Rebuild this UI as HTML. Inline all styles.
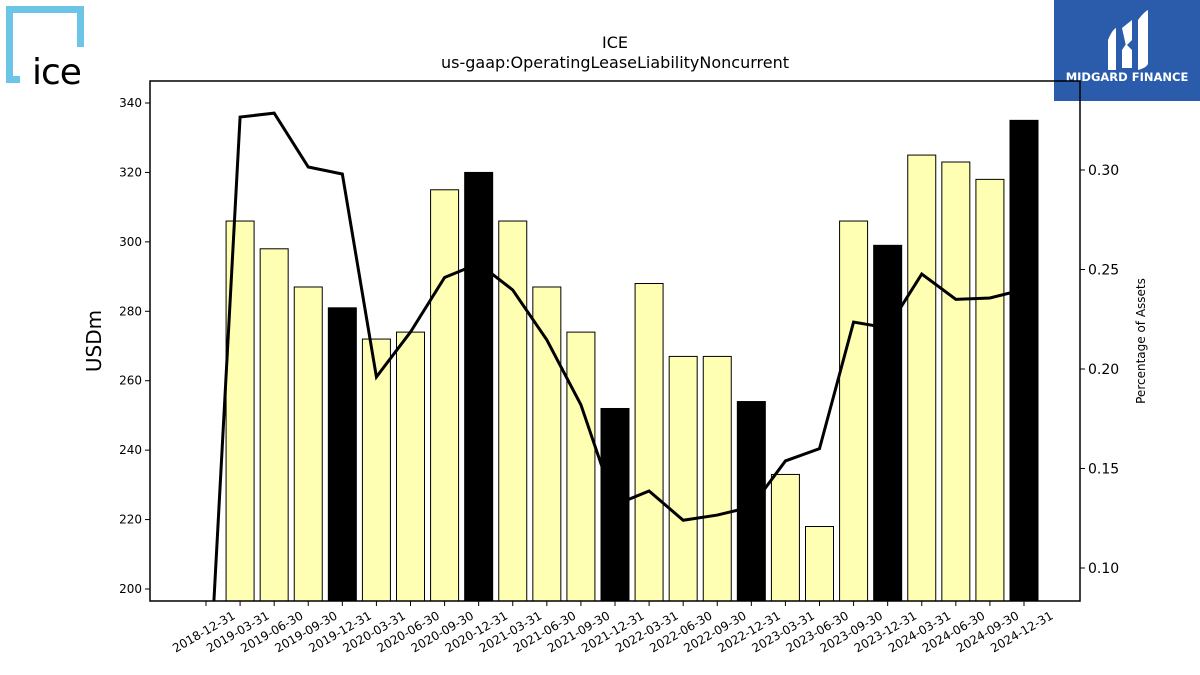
<!DOCTYPE html>
<html><head><meta charset="utf-8"><style>
html,body{margin:0;background:#fff;font-family:"Liberation Sans","DejaVu Sans",sans-serif;width:1200px;height:675px;overflow:hidden}
svg{display:block}
svg text{font-family:"DejaVu Sans","Liberation Sans",sans-serif}
</style></head><body>
<svg id="c" width="1200" height="675" viewBox="0 0 1200 675">
<g>
<path d="M6 6 H84 V47 H77 V13 H13 V76 H20 V83 H6 Z" fill="#6cc4e6"/>
<text x="32" y="84" font-size="36" font-family="DejaVu Sans" letter-spacing="-1" fill="#000">ice</text>
</g>
<g>
<rect x="1054" y="0" width="146" height="101" fill="#2b5cab"/>
<path d="M1108 40 Q1112 30 1116 28 V70 H1108 Z M1122 28 L1132 20 V40 L1126 46 Z M1122 50 L1126 44 L1132 50 V68 H1122 Z M1138 20 Q1144 12 1148 10 V64 Q1146 68 1138 70 Z" fill="#fff"/>
<text x="1127" y="81" font-size="11.5" font-weight="bold" fill="#fff" text-anchor="middle">MIDGARD FINANCE</text>
</g>
<text x="615" y="48" font-size="16" text-anchor="middle">ICE</text>
<text x="615" y="68" font-size="16" text-anchor="middle">us-gaap:OperatingLeaseLiabilityNoncurrent</text>
<g id="plot"></g>
</svg>
<script>
const categories=["2018-12-31","2019-03-31","2019-06-30","2019-09-30","2019-12-31","2020-03-31","2020-06-30","2020-09-30","2020-12-31","2021-03-31","2021-06-30","2021-09-30","2021-12-31","2022-03-31","2022-06-30","2022-09-30","2022-12-31","2023-03-31","2023-06-30","2023-09-30","2023-12-31","2024-03-31","2024-06-30","2024-09-30","2024-12-31"];
const barValues=[null,306,298,287,281,272,274,315,320,306,287,274,252,288,267,267,254,233,218,306,299,325,323,318,335];
const pctValues=[0.01,0.3266,0.3286,0.3015,0.298,0.196,0.2186,0.246,0.253,0.2397,0.2146,0.182,0.1317,0.1387,0.124,0.1266,0.1307,0.1538,0.160,0.2236,0.2206,0.2477,0.235,0.2357,0.240];
const leftTicks=[200,220,240,260,280,300,320,340];
const rightTicks=[0.10,0.15,0.20,0.25,0.30];
const NS="http://www.w3.org/2000/svg";
const L=150,R=1080,T=81,B=601;
const xS=i=>206+i*(1024-206)/24;
const yL=v=>589-(v-200)*(589-103)/140;
const yR=v=>568-(v-0.10)*1990;
const g=document.getElementById('plot');
function mk(t,a,p){const e=document.createElementNS(NS,t);for(const k in a)e.setAttribute(k,a[k]);(p||g).appendChild(e);return e;}
const clip=mk('clipPath',{id:'cp'});mk('rect',{x:L,y:T,width:R-L,height:B-T},clip);
function bars(black){barValues.forEach((v,i)=>{if(v==null)return;const isB=categories[i].endsWith('12-31');if(isB!==black)return;
const r=mk('rect',{x:xS(i)-14,y:yL(v),width:28,height:B-yL(v),fill:isB?'#000':'#ffffb3',stroke:'#000','stroke-width':1});

});}
bars(false);
const ln=mk('polyline',{points:pctValues.map((v,i)=>xS(i)+','+yR(v)).join(' '),fill:'none',stroke:'#000','stroke-width':3,'clip-path':'url(#cp)'});


bars(true);
const fr=mk('rect',{x:L,y:T,width:R-L,height:B-T,fill:'none',stroke:'#000','stroke-width':1.5});


leftTicks.forEach(v=>{mk('line',{x1:L-5,x2:L,y1:yL(v),y2:yL(v),stroke:'#000'});
const t=mk('text',{x:L-8,y:yL(v)+4,'font-size':12,'text-anchor':'end'});t.textContent=v;

});
rightTicks.forEach(v=>{mk('line',{x1:R,x2:R+5,y1:yR(v),y2:yR(v),stroke:'#000'});
const t=mk('text',{x:R+8,y:yR(v)+5,'font-size':14});t.textContent=v.toFixed(2);

});
categories.forEach((c,i)=>{mk('line',{x1:xS(i),x2:xS(i),y1:B,y2:B+5,stroke:'#000'});
const tx=xS(i)+30, ty=B+17;
const t=mk('text',{x:tx,y:ty,'font-size':12,'text-anchor':'end',transform:`rotate(-30 ${tx} ${ty})`});t.textContent=c;

});
const yt=mk('text',{x:0,y:0,'font-size':20,'text-anchor':'middle',transform:'translate(101 341) rotate(-90)'});yt.textContent='USDm';


const yt2=mk('text',{x:0,y:0,'font-size':12,'text-anchor':'middle',transform:'translate(1145 341) rotate(-90)'});yt2.textContent='Percentage of Assets';


</script>
</body></html>
